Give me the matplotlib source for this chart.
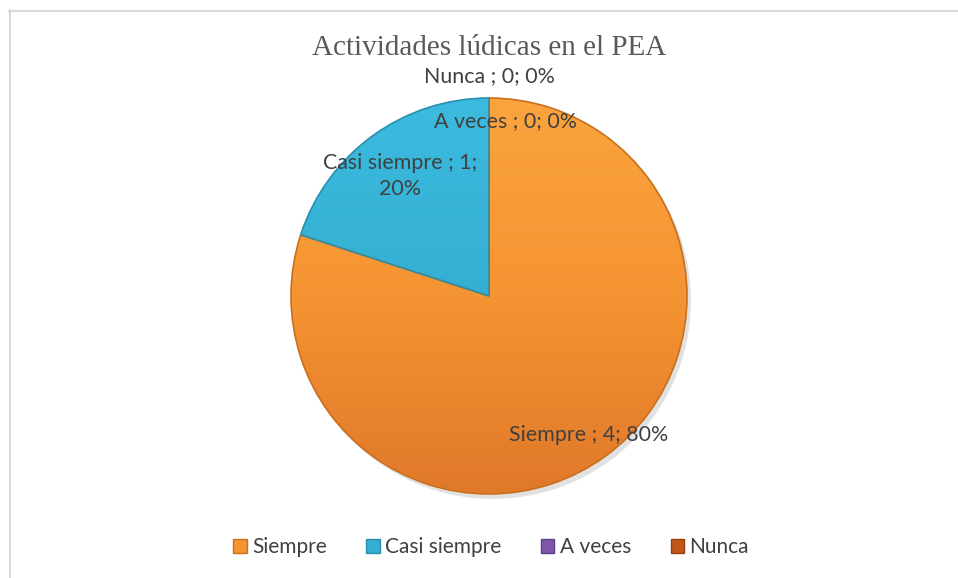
import matplotlib
matplotlib.use("Agg")
import matplotlib.pyplot as plt
import numpy as np
from matplotlib.patches import Patch
from matplotlib.lines import Line2D
from matplotlib.colors import LinearSegmentedColormap

categories = ["Siempre", "Casi siempre", "A veces", "Nunca"]
values = [4, 1, 0, 0]
percents = ["80%", "20%", "0%", "0%"]
title = "Actividades lúdicas en el PEA"
colors = ["#F59432", "#33AFD2", "#7E57A8", "#C0561A"]
light = ["#FBA43E", "#3CBBE0", "#9A74C2", "#D8702A"]
dark = ["#E0782A", "#2C98B8", "#6A4590", "#A84510"]
edges = ["#C8701E", "#2A8FAE", "#5E3E86", "#9A4010"]

W, H = 958, 578
fig = plt.figure(figsize=(W / 100, H / 100), dpi=100)
fig.patch.set_facecolor("white")

# frame lines
fig.add_artist(Line2D([9 / W, 1.0], [1 - 10.5 / H, 1 - 10.5 / H], color="#D9D9D9", lw=1.5))
fig.add_artist(Line2D([9.5 / W, 9.5 / W], [0, 1 - 10 / H], color="#D9D9D9", lw=1.5))

cx, cy, r = 489, 296, 198
ax = fig.add_axes([(cx - r) / W, (H - cy - r) / H, 2 * r / W, 2 * r / H])
ax.axis("off")

# shadow
shadow = ax.pie(values, radius=1.0, startangle=90, counterclock=False,
                colors=["#777777"] * 4, center=(0.02, -0.025),
                wedgeprops=dict(linewidth=0))[0]
for s in shadow:
    s.set_alpha(0.22)
    s.set_zorder(0)

wedges = ax.pie(values, radius=1.0, startangle=90, counterclock=False,
                colors=colors[:len(values)],
                wedgeprops=dict(edgecolor="none", linewidth=0))[0]

# gradient fill clipped to each wedge
for i, w in enumerate(wedges):
    if values[i] == 0:
        continue
    cmap = LinearSegmentedColormap.from_list("g%d" % i, [light[i], colors[i], dark[i]])
    im = ax.imshow(np.linspace(0, 1, 300)[:, None] * np.ones((1, 10)),
                   extent=(-1, 1, -1, 1), cmap=cmap, aspect="auto", zorder=1.5,
                   origin="upper")
    im.set_clip_path(w)
    w.set_facecolor("none")
    w.set_edgecolor(edges[i])
    w.set_linewidth(1.2)
    w.set_zorder(2)

ax.set_xlim(-1, 1)
ax.set_ylim(-1, 1)

# data labels (positions in pixel space)
lab_font = dict(family=["Lato", "DejaVu Sans"], fontsize=15.4, color="#404040")
label_pos = {
    "Siempre": (589, 435),
    "Casi siempre": (400, 176),
    "A veces": (505, 121),
    "Nunca": (489, 76),
}
for c, v, p in zip(categories, values, percents):
    x, y = label_pos[c]
    if c == "Casi siempre":
        txt = f"{c} ; {v};\n{p}"
    else:
        txt = f"{c} ; {v}; {p}"
    fig.text(x / W, 1 - y / H, txt, ha="center", va="center",
             linespacing=1.38, zorder=10, **lab_font)

fig.text(489 / W, 1 - 48 / H, title, ha="center", va="center",
         family=["Liberation Serif", "DejaVu Serif"], fontsize=21, color="#595959")

handles = [Patch(facecolor=colors[i], edgecolor=edges[i], label=categories[i])
           for i in range(len(categories))]
leg = fig.legend(handles=handles, loc="center", bbox_to_anchor=(491 / W, 1 - 547 / H),
                 ncol=4, frameon=False, handlelength=0.65, handleheight=0.65,
                 handletextpad=0.25, columnspacing=1.9,
                 prop=dict(family=["Lato", "DejaVu Sans"], size=15))
for t in leg.get_texts():
    t.set_color("#404040")

fig.savefig("out.png", dpi=100, facecolor="white")
